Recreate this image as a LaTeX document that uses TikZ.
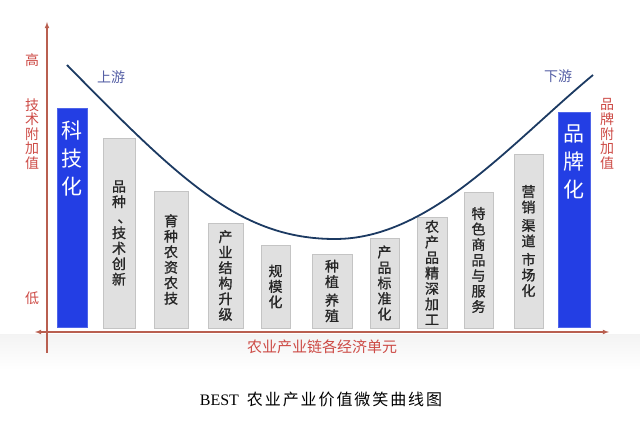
\documentclass[tikz,border=0pt]{standalone}
\usepackage{fontspec}
\setmainfont{Liberation Serif}
\newfontfamily\cjk{Noto Sans CJK SC}
\newfontfamily\cjkbar[FakeBold=1.1]{Noto Sans CJK SC}
\definecolor{axisred}{RGB}{185,95,80}
\definecolor{labelred}{RGB}{205,75,70}
\definecolor{barblue}{RGB}{35,62,228}
\definecolor{curvenavy}{RGB}{28,58,98}
\definecolor{streamblue}{RGB}{85,95,165}
\definecolor{bargray}{RGB}{224,224,224}
\definecolor{barline}{RGB}{196,196,196}

\begin{document}
\begin{tikzpicture}[x=1pt,y=-1pt,
  graybar/.style={draw=barline, fill=bargray, line width=0.8pt, inner sep=0pt,
    align=center, text=black!85, font=\cjkbar\fontsize{14}{15.5}\selectfont},
  bluebar/.style={draw=barblue!80!white, fill=barblue, line width=0.8pt, inner sep=0pt},
  axislabel/.style={text=labelred, align=center, font=\cjk\fontsize{14}{14.6}\selectfont}]
  \useasboundingbox (0,0) rectangle (640,430);
  \shade[top color=gray!9, bottom color=white] (0,335) rectangle (640,370);

  % axes
  \coordinate (ytop) at (47,22);
  \coordinate (ybot) at (47,353);
  \coordinate (xleft) at (35,332);
  \coordinate (xright) at (609,332);
  \draw[axisred, line width=1.1pt, -latex] (ybot) -- (ytop);
  \draw[axisred, line width=1.1pt, latex-latex] (xleft) -- (xright);

  % side labels
  \node[axislabel] (high) at (32,60) {高};
  \node[axislabel] (techval) at (32,134) {技\\术\\附\\加\\值};
  \node[axislabel] (low) at (32,298) {低};
  \node[axislabel] (brandval) at (607,134) {品\\牌\\附\\加\\值};

  % blue end bars
  \node[bluebar, minimum width=30, minimum height=219] (sci) at (72,217.5) {};
  \node[bluebar, minimum width=32, minimum height=215] (brand) at (574,219.5) {};
  \node[text=white, align=center, anchor=north, font=\cjk\fontsize{21}{28}\selectfont]
    (scitxt) at (sci.north |- 0,117) {科\\技\\化};
  \node[text=white, align=center, anchor=north, font=\cjk\fontsize{21}{28}\selectfont]
    (brandtxt) at (brand.north |- 0,121) {品\\牌\\化};

  % gray bars
  \foreach \n/\xl/\xr/\top/\txt in {
      2/103/135/138/{品\\种\\\hspace*{11pt}、\\技\\术\\创\\新},
      3/154/188/191/{育\\种\\农\\资\\农\\技},
      4/208/243/223/{产\\业\\结\\构\\升\\级},
      5/261/290/245/{规\\模\\化},
      6/312/352/254/{种\\植\\[3pt]养\\殖},
      7/370/399/238/{产\\品\\标\\准\\化},
      8/417/447/217/{农\\产\\品\\精\\深\\加\\工},
      9/464/493/192/{特\\色\\商\\品\\与\\服\\务},
      10/514/543/154/{营\\销\\[3pt]渠\\道\\[3pt]市\\场\\化}} {
    \node[graybar, minimum width={\xr-\xl}, minimum height={328-\top}]
      (bar\n) at ({(\xl+\xr)/2},{(\top+328)/2}) {\txt};
  }

  % smile curve
  \coordinate (cstart) at (67,65);
  \coordinate (cmin) at (335,239);
  \coordinate (cend) at (593,75);
  \draw[curvenavy, line width=1.8pt] (cstart)
    .. controls (180,180) and (240,239) .. (cmin)
    .. controls (430,239) and (510,144) .. (cend);
  \node[text=streamblue, font=\cjk\fontsize{14}{14}\selectfont] (up) at (111,77) {上游};
  \node[text=streamblue, font=\cjk\fontsize{14}{14}\selectfont] (down) at (558,76) {下游};

  % captions
  \node[text=labelred, font=\cjk\fontsize{15}{15}\selectfont] (chain) at (322,347)
    {农业产业链各经济单元};
  \node[font=\fontsize{16}{16}\selectfont] (title) at (321,399)
    {BEST\ \ {\cjk\addfontfeatures{LetterSpace=12}农业产业价值微笑曲线图}};
\end{tikzpicture}
\end{document}
